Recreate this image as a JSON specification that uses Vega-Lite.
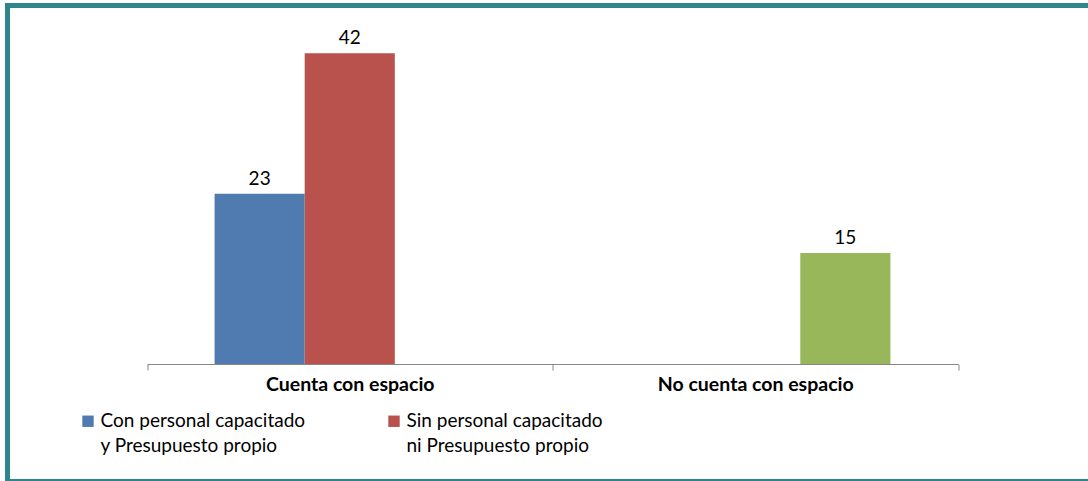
{
  "$schema": "https://vega.github.io/schema/vega-lite/v6.json",
  "autosize": {"type": "none"},
  "padding": {"left": 7.5, "top": 5.5, "right": 0, "bottom": 0},
  "width": 1090,
  "height": 476,
  "background": "white",
  "config": {
    "view": {"stroke": "#2E868C", "strokeWidth": 5},
    "font": "Lato"
  },
  "data": {
    "values": [
      {"Espacio": "Cuenta con espacio", "Grupo": "Con personal capacitado y Presupuesto propio", "Valor": 23},
      {"Espacio": "Cuenta con espacio", "Grupo": "Sin personal capacitado ni Presupuesto propio", "Valor": 42},
      {"Espacio": "No cuenta con espacio", "Grupo": "No cuenta con espacio", "Valor": 15}
    ]
  },
  "encoding": {
    "x": {
      "field": "Espacio",
      "type": "nominal",
      "sort": ["Cuenta con espacio", "No cuenta con espacio"],
      "scale": {"range": [139.5, 950.5], "paddingInner": 0, "paddingOuter": 0},
      "axis": {
        "title": null,
        "offset": -117.5,
        "tickBand": "extent",
        "domainColor": "#888888",
        "tickColor": "#888888",
        "tickSize": 6,
        "labelAngle": 0,
        "labelFont": "Lato",
        "labelFontWeight": "bold",
        "labelFontSize": 19.5,
        "labelColor": "black",
        "labelPadding": 5,
        "labelLimit": 400
      }
    },
    "xOffset": {
      "field": "Grupo",
      "type": "nominal",
      "sort": ["Con personal capacitado y Presupuesto propio", "Sin personal capacitado ni Presupuesto propio", "No cuenta con espacio"],
      "scale": {"paddingOuter": 0.75, "paddingInner": 0}
    },
    "y": {
      "field": "Valor",
      "type": "quantitative",
      "scale": {"domain": [0, 45], "range": [358.5, 25.5]},
      "axis": null
    }
  },
  "layer": [
    {
      "mark": {"type": "bar"},
      "encoding": {
        "color": {
          "field": "Grupo",
          "type": "nominal",
          "scale": {
            "domain": ["Con personal capacitado y Presupuesto propio", "Sin personal capacitado ni Presupuesto propio", "No cuenta con espacio"],
            "range": ["#4F7BB0", "#B9514D", "#98B65A"]
          },
          "legend": {
            "title": null,
            "orient": "none",
            "legendX": 71,
            "legendY": 406,
            "direction": "horizontal",
            "columns": 2,
            "columnPadding": 79,
            "values": ["Con personal capacitado y Presupuesto propio", "Sin personal capacitado ni Presupuesto propio"],
            "symbolType": "square",
            "symbolSize": 130,
            "symbolStrokeWidth": 0,
            "labelFont": "Lato",
            "labelFontSize": 19,
            "labelColor": "black",
            "labelOffset": 3,
            "labelLimit": 400,
            "labelExpr": "datum.label == 'Con personal capacitado y Presupuesto propio' ? ['Con personal capacitado', 'y Presupuesto propio'] : ['Sin personal capacitado', 'ni Presupuesto propio']",
            "encode": {"labels": {"update": {"lineHeight": {"value": 25}, "baseline": {"value": "top"}, "dy": {"value": -9}}}}
          }
        }
      }
    },
    {
      "mark": {"type": "text", "baseline": "bottom", "dy": -5, "fontSize": 19, "font": "Lato", "color": "black"},
      "encoding": {"text": {"field": "Valor", "type": "quantitative"}}
    }
  ]
}
